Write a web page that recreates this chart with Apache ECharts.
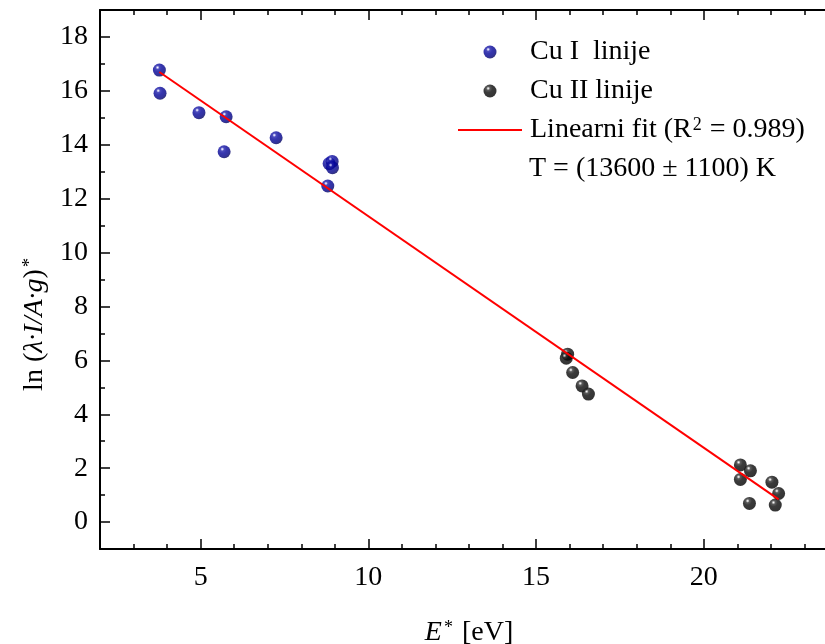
<!DOCTYPE html>
<html>
<head>
<meta charset="utf-8">
<script src="https://cdn.jsdelivr.net/npm/echarts@6/dist/echarts.min.js"></script>
<style>
html,body{margin:0;padding:0;background:#fff;}
#chart{width:825px;height:644px;}
</style>
</head>
<body>
<div id="chart"></div>
<script>
// ---- data ----
var cuI_E  = [3.77, 3.79, 4.95, 5.76, 5.70, 7.25, 8.79, 8.83, 8.92, 8.93];
var cuI_ln = [16.77, 15.91, 15.19, 15.04, 13.74, 14.26, 12.47, 13.30, 13.38, 13.15];

var cuII_E  = [15.94, 15.90, 16.09, 16.37, 16.56, 21.09, 21.39, 21.09, 22.03, 22.23, 21.36, 22.13];
var cuII_ln = [6.23, 6.08, 5.55, 5.05, 4.75, 2.12, 1.90, 1.58, 1.48, 1.06, 0.69, 0.63];

var fit_E  = [3.77, 22.23];
var fit_ln = [16.70, 0.84];

var xTickLabels = [5, 10, 15, 20];
var yTickLabels = [0, 2, 4, 6, 8, 10, 12, 14, 16, 18];

var seriesNames = ['Cu I  linije', 'Cu II linije', 'Linearni fit'];
var fitNote = 'T = (13600 \u00b1 1100) K';

function zip(a, b) { return a.map(function (v, i) { return [v, b[i]]; }); }

var FONT = 'Liberation Serif';
var FS = 28;

var blueBall = {
  type: 'radial', x: 0.36, y: 0.3, r: 0.72,
  colorStops: [
    {offset: 0, color: '#ffffff'},
    {offset: 0.08, color: '#b8b8f0'},
    {offset: 0.2, color: '#2020ac'},
    {offset: 0.45, color: '#04049a'},
    {offset: 0.8, color: '#000084'},
    {offset: 1, color: '#00005a'}
  ]
};
var blackBall = {
  type: 'radial', x: 0.36, y: 0.3, r: 0.72,
  colorStops: [
    {offset: 0, color: '#ffffff'},
    {offset: 0.08, color: '#c0c0c0'},
    {offset: 0.2, color: '#333333'},
    {offset: 0.45, color: '#0a0a0a'},
    {offset: 1, color: '#000000'}
  ]
};

var axisLine = {show: true, onZero: false, lineStyle: {color: '#000', width: 2}};
var noLine = {show: false, onZero: false};

var chart = echarts.init(document.getElementById('chart'), null, {renderer: 'canvas'});

var option = {
  backgroundColor: '#fff',
  animation: false,
  grid: {left: 100, top: 10, width: 738, height: 539, containLabel: false, outerBoundsMode: 'none'},
  xAxis: [
    { // main bottom axis: labels + major ticks
      type: 'value', position: 'bottom', min: 2, max: 24, splitNumber: 5,
      axisLine: axisLine,
      axisTick: {show: true, inside: true, length: 10, lineStyle: {color: '#000', width: 1.5}},
      splitLine: {show: false},
      axisLabel: {
        show: true, margin: 15, color: '#000', fontFamily: FONT, fontSize: FS,
        formatter: function (v) { return xTickLabels.indexOf(v) >= 0 ? String(v) : ''; }
      },
      name: '{it|E}{sup|*} [eV]',
      nameLocation: 'middle', nameGap: 70,
      nameTextStyle: {
        color: '#000', fontFamily: FONT, fontSize: FS,
        rich: {
          it: {fontFamily: FONT, fontSize: FS, fontStyle: 'italic', color: '#000'},
          sup: {fontFamily: FONT, fontSize: 18, verticalAlign: 'top', color: '#000', padding: [0, 2, 0, 2]}
        }
      }
    },
    { // bottom minor ticks
      type: 'value', position: 'bottom', min: 2, max: 24, interval: 1,
      axisLine: noLine,
      axisTick: {show: true, inside: true, length: 5, lineStyle: {color: '#000', width: 1.5}},
      axisLabel: {show: false}, splitLine: {show: false}
    },
    { // top mirror: major ticks
      type: 'value', position: 'top', min: 2, max: 24, splitNumber: 5,
      axisLine: axisLine,
      axisTick: {show: true, inside: true, length: 10, lineStyle: {color: '#000', width: 1.5}},
      axisLabel: {show: false}, splitLine: {show: false}
    },
    { // top mirror: minor ticks
      type: 'value', position: 'top', min: 2, max: 24, interval: 1,
      axisLine: noLine,
      axisTick: {show: true, inside: true, length: 5, lineStyle: {color: '#000', width: 1.5}},
      axisLabel: {show: false}, splitLine: {show: false}
    }
  ],
  yAxis: [
    {
      type: 'value', position: 'left', min: -1, max: 19, splitNumber: 10,
      axisLine: axisLine,
      axisTick: {show: true, inside: true, length: 10, lineStyle: {color: '#000', width: 1.5}},
      splitLine: {show: false},
      axisLabel: {
        show: true, margin: 12, color: '#000', fontFamily: FONT, fontSize: FS,
        formatter: function (v) { return yTickLabels.indexOf(v) >= 0 ? String(v) : ''; }
      },
      name: 'ln ({it|\u03bb\u00b7I/A\u00b7g}){sup|*}',
      nameLocation: 'middle', nameGap: 40, nameRotate: 90,
      nameTextStyle: {
        color: '#000', fontFamily: FONT, fontSize: FS, padding: [0, 90, 0, 0],
        rich: {
          it: {fontFamily: FONT, fontSize: FS, fontStyle: 'italic', color: '#000'},
          sup: {fontFamily: FONT, fontSize: 18, verticalAlign: 'top', color: '#000', padding: [0, 0, 0, 2]}
        }
      }
    },
    {
      type: 'value', position: 'left', min: -1, max: 19, interval: 1,
      axisLine: noLine,
      axisTick: {show: true, inside: true, length: 5, lineStyle: {color: '#000', width: 1.5}},
      axisLabel: {show: false}, splitLine: {show: false}
    }
  ],
  legend: {
    show: true, orient: 'vertical', left: 457, top: 38, padding: 0,
    itemWidth: 64, itemHeight: 13, itemGap: 11,
    data: [
      {name: seriesNames[0]},
      {name: seriesNames[1]},
      {name: seriesNames[2], itemStyle: {opacity: 0}, lineStyle: {color: '#ff0000', width: 2}}
    ],
    textStyle: {
      color: '#000', fontFamily: FONT, fontSize: FS, padding: [0, 0, 0, 3],
      rich: {
        n: {fontFamily: FONT, fontSize: FS, color: '#000'},
        sup: {fontFamily: FONT, fontSize: 18, verticalAlign: 'top', color: '#000', padding: [0, 1, 0, 1]}
      }
    },
    formatter: function (name) {
      if (name === 'Linearni fit') return '{n|Linearni fit (R}{sup|2}{n| = 0.989)}';
      return name;
    }
  },
  graphic: [
    {
      type: 'text', left: 529, top: 155,
      style: {text: fitNote, fill: '#000', font: FS + 'px "' + FONT + '"'}
    }
  ],
  series: [
    {
      name: seriesNames[0], type: 'scatter', xAxisIndex: 0, yAxisIndex: 0,
      symbol: 'circle', symbolSize: 13,
      itemStyle: {color: blueBall},
      data: zip(cuI_E, cuI_ln)
    },
    {
      name: seriesNames[1], type: 'scatter', xAxisIndex: 0, yAxisIndex: 0,
      symbol: 'circle', symbolSize: 13,
      itemStyle: {color: blackBall},
      data: zip(cuII_E, cuII_ln)
    },
    {
      name: seriesNames[2], type: 'line', xAxisIndex: 0, yAxisIndex: 0,
      showSymbol: false, symbol: 'none',
      lineStyle: {color: '#ff0000', width: 2},
      itemStyle: {color: '#ff0000'},
      data: zip(fit_E, fit_ln),
      z: 3
    }
  ]
};
chart.setOption(option);
</script>
</body>
</html>
